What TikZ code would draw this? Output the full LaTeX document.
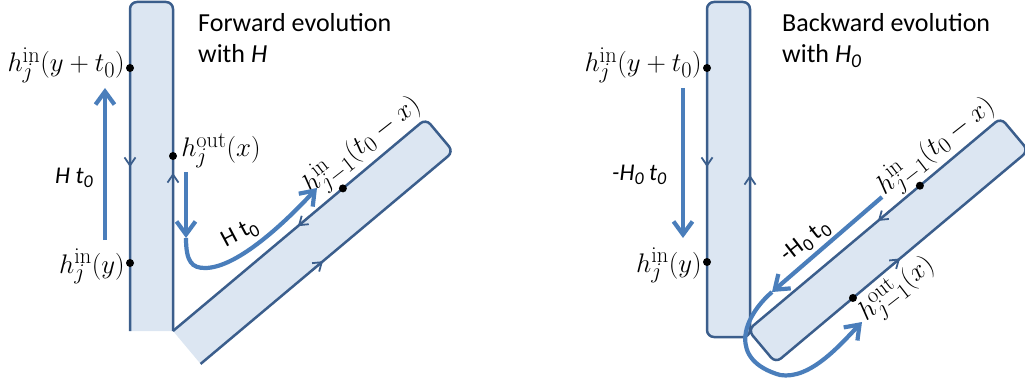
\documentclass[tikz,border=0pt]{standalone}
\usepackage[no-math]{fontspec}
\newfontfamily\cali{Carlito}
\usetikzlibrary{arrows.meta,calc}
\definecolor{barfill}{HTML}{DCE6F2}
\definecolor{barline}{HTML}{3B5E8C}
\definecolor{flow}{HTML}{4A7EBB}
\newcommand{\lowsub}[1]{\raisebox{-0.2em}{\scalebox{0.75}{#1}}}
\tikzset{
  bar/.style={fill=barfill, draw=barline, line width=2.5pt, rounded corners=7pt},
  tick/.style={draw=barline, line width=1.8pt, -{Straight Barb[length=8pt,width=11pt]}},
  flowarrow/.style={draw=flow, line width=4.2pt, -{Straight Barb[length=13pt,width=19pt]}},
  pt/.style={circle, fill=black, inner sep=0pt, minimum size=8pt},
  mlabel/.style={font=\fontsize{24.88}{28}\selectfont, text=black, inner sep=1pt, scale=1.08},
  title/.style={font=\cali\fontsize{26}{31}\selectfont, align=left, anchor=north west, inner sep=0pt},
  flab/.style={font=\cali\fontsize{24}{28}\selectfont, inner sep=0pt},
}
\begin{document}
\begin{tikzpicture}[x=1pt,y=-1pt]
\useasboundingbox (0,0) rectangle (1025,385);

% ---------------- left panel ----------------
\coordinate (LA) at (173,331);
\coordinate (LB) at (425.8,118.8);
\coordinate (LC) at (453.4,151.7);
\coordinate (LD) at (200.6,363.9);
\path[bar] (130,331) -- (130,2) -- (173,2) -- (173,331);
\path[bar] (LD) -- (LC) -- (LB) -- (LA);

\draw[tick] (130,156) -- (130,167);
\draw[tick] (173,184) -- (173,173);
\draw[tick] ($(LA)!0.54!(LB)$) -- ($(LA)!0.494!(LB)$);
\draw[tick] ($(LD)!0.44!(LC)$) -- ($(LD)!0.484!(LC)$);

\node[pt] (la) at (130,68) {};
\node[pt] (lb) at (130,263) {};
\node[pt] (lc) at (173,156) {};
\node[pt] (ld) at ($(LA)!0.672!(LB)$) {};

\node[mlabel, anchor=base east] (lla) at (126,72) {$h_j^{\mathrm{in}}(y+t_0)$};
\node[mlabel, anchor=base east] (llb) at (126,273) {$h_j^{\mathrm{in}}(y)$};
\node[mlabel, anchor=base west] (llc) at (180,157) {$h_j^{\mathrm{out}}(x)$};
\node[mlabel, rotate=38] (lld) at (362,146) {$h_{j-1}^{\mathrm{in}}(t_0-x)$};

\coordinate (lf1s) at (105,240);
\coordinate (lf1e) at (105,88);
\draw[flowarrow] (lf1s) -- (lf1e);
\coordinate (lf2s) at (186,172);
\coordinate (lf2m) at (186,238);
\coordinate (lf2e) at (317,188);
\draw[flowarrow] (lf2s) -- (lf2m);
\draw[flowarrow] (lf2m) .. controls (186,262) and (192,268) .. (205,268)
  .. controls (235,268) and (280,228) .. (lf2e);

\node[flab, anchor=base west] (lt1) at (55,183) {\textit{H t\lowsub{0}}};
\node[flab, rotate=28] (lt2) at (240,234) {H t\lowsub{0}};
\node[title] (ttl1) at (198,13) {Forward evolution\\with \textit{H}};

% ---------------- right panel ----------------
\coordinate (RA) at (748,330);
\coordinate (RB) at (1000.8,117.8);
\coordinate (RC) at (1028.4,150.7);
\coordinate (RD) at (775.6,362.9);
\path[bar] (707,2) rectangle (750,337);
\path[bar] (RA) -- (RB) -- (RC) -- (RD) -- cycle;

\draw[tick] (707,156) -- (707,167);
\draw[tick] (750,186) -- (750,175);
\draw[tick] ($(RA)!0.56!(RB)$) -- ($(RA)!0.514!(RB)$);
\draw[tick] ($(RD)!0.45!(RC)$) -- ($(RD)!0.492!(RC)$);

\node[pt] (ra) at (707,68) {};
\node[pt] (rb) at (707,262) {};
\node[pt] (rc) at ($(RA)!0.68!(RB)$) {};
\node[pt] (rd) at ($(RD)!0.306!(RC)$) {};

\node[mlabel, anchor=base east] (rla) at (703,72) {$h_j^{\mathrm{in}}(y+t_0)$};
\node[mlabel, anchor=base east] (rlb) at (703,272) {$h_j^{\mathrm{in}}(y)$};
\node[mlabel, rotate=38] (rlc) at (936,147) {$h_{j-1}^{\mathrm{in}}(t_0-x)$};
\node[mlabel, rotate=38] (rld) at (897,290) {$h_{j-1}^{\mathrm{out}}(x)$};

\coordinate (rf1s) at (683,88);
\coordinate (rf1e) at (683,238);
\draw[flowarrow] (rf1s) -- (rf1e);
\coordinate (rf2s) at (882,197);
\coordinate (rf2m) at (772,292);
\coordinate (rf2e) at (862,322);
\draw[flowarrow] (rf2s) -- (rf2m);
\draw[flowarrow] (rf2m) .. controls (742,318) and (728,360) .. (780,375)
  .. controls (810,380) and (840,345) .. (rf2e);

\node[flab, anchor=base west] (rt1) at (612,180) {\textit{-H\lowsub{0} t\lowsub{0}}};
\node[flab, rotate=38] (rt2) at (806,242) {-H\lowsub{0} t\lowsub{0}};
\node[title] (ttl2) at (782,13) {Backward evolution\\with \textit{H\lowsub{0}}};
\end{tikzpicture}
\end{document}
